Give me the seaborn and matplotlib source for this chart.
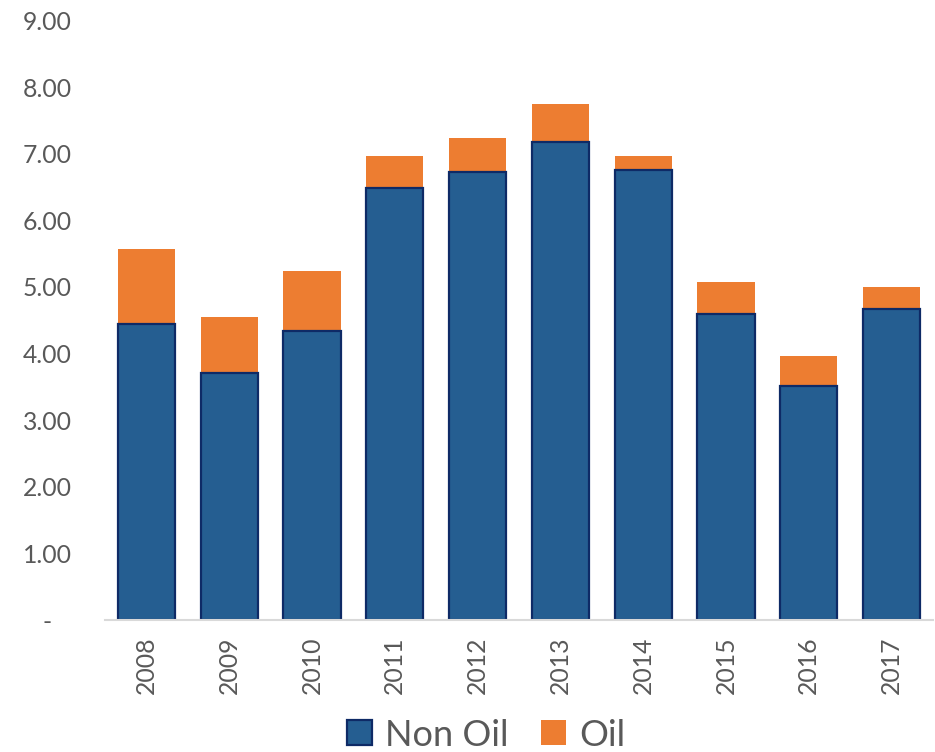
import matplotlib
matplotlib.use("Agg")
import matplotlib.pyplot as plt
from matplotlib.patches import Patch
from matplotlib.ticker import FuncFormatter
import seaborn as sns
import pandas as pd

# Annual values, split into non-oil and oil components
years = ["2008", "2009", "2010", "2011", "2012", "2013", "2014", "2015", "2016", "2017"]
non_oil = [4.45, 3.71, 4.34, 6.48, 6.72, 7.18, 6.75, 4.60, 3.52, 4.67]
oil = [1.12, 0.84, 0.90, 0.48, 0.51, 0.57, 0.22, 0.48, 0.45, 0.33]
y_ticks = [0, 1, 2, 3, 4, 5, 6, 7, 8, 9]

BLUE = "#255E91"
BLUE_EDGE = "#0E2A66"
ORANGE = "#ED7D31"
TEXT = "#595959"

df = pd.DataFrame({"year": years, "non_oil": non_oil, "oil": oil})
df["total"] = df["non_oil"] + df["oil"]

sns.set_theme(style="white")
plt.rcParams["font.family"] = ["Lato", "DejaVu Sans"]

fig = plt.figure(figsize=(9.35, 7.52), dpi=100)
ax = fig.add_axes([105 / 935, 1 - 620 / 752, (933 - 105) / 935, (620 - 20.5) / 752])

# Stacked bars: full height in orange, non-oil part drawn over it in blue
sns.barplot(data=df, x="year", y="total", color=ORANGE, saturation=1,
            width=0.69, linewidth=0, ax=ax)
sns.barplot(data=df, x="year", y="non_oil", color=BLUE, saturation=1,
            width=0.69, edgecolor=BLUE_EDGE, linewidth=1.6, ax=ax)

ax.set_xlim(-0.5, len(years) - 0.5)
ax.set_ylim(0, 9)
ax.set_yticks(y_ticks)
ax.yaxis.set_major_formatter(FuncFormatter(lambda v, p: "-   " if v == 0 else f"{v:.2f}"))
ax.set_xlabel("")
ax.set_ylabel("")

for side in ["left", "top", "right"]:
    ax.spines[side].set_visible(False)
ax.spines["bottom"].set_color("#D9D9D9")
ax.spines["bottom"].set_linewidth(1.5)

ax.tick_params(axis="y", length=0, pad=24, labelsize=17.8, labelcolor=TEXT)
ax.tick_params(axis="x", length=0, pad=12, labelsize=17.8, labelcolor=TEXT, labelrotation=90)
ax.grid(False)

handles = [Patch(facecolor=BLUE, edgecolor=BLUE_EDGE, linewidth=1.6, label="Non Oil"),
           Patch(facecolor=ORANGE, edgecolor=ORANGE, linewidth=0, label="Oil")]
fig.legend(handles=handles, loc="center", bbox_to_anchor=(486 / 935, 1 - 735 / 752),
           ncol=2, frameon=False, fontsize=26, labelcolor=TEXT,
           handlelength=0.69, handleheight=0.69, handletextpad=0.36,
           columnspacing=0.9, borderaxespad=0, borderpad=0)

fig.savefig("out.png", dpi=100)
